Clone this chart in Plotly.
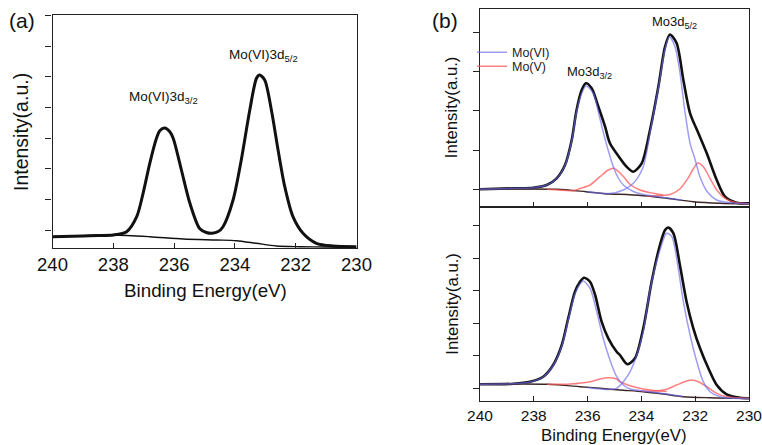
import plotly.graph_objects as go

FONT = "Liberation Sans, Arial, sans-serif"
W, H = 762, 445

# ---------------- data (binding energy in eV, intensity in a.u.) ----------------
x_ticks = [240, 238, 236, 234, 232, 230]

# panel (a)
a_total_ev = [240.0, 239.0, 238.5, 238.0, 237.56, 237.23, 237.02, 236.80, 236.58, 236.47, 236.31,
              236.14, 236.03, 235.76, 235.48, 235.16, 234.94, 234.75, 234.55, 234.39, 234.06,
              233.79, 233.51, 233.29, 233.19, 233.02, 232.80, 232.58, 232.36, 232.09, 231.76,
              231.32, 230.78, 230.0]
a_total_int = [11.3, 12.0, 12.5, 13.0, 16.3, 31.3, 54.7, 84.7, 109.7, 117.3, 120.0,
               116.3, 109.7, 78.0, 44.7, 19.5, 15.5, 14.7, 16.5, 21.3, 48.0,
               88.0, 138.0, 169.7, 173.0, 168.0, 138.0, 98.0, 61.3, 31.3, 14.7,
               4.7, 2.0, 1.3]
a_bg_ev = [240.0, 239.0, 238.0, 236.8, 235.7, 234.6, 233.95, 233.3, 232.64, 231.87, 231.0, 230.0]
a_bg_int = [11.3, 12.3, 13.0, 11.3, 9.0, 8.0, 7.3, 4.7, 2.0, 1.3, 1.0, 0.7]
a_yticks = [18, 48.7, 79.5, 110, 140.5, 171.3, 202, 233]

# panel (b) top
bt_total_ev = [240.0, 238.76, 238.02, 237.52, 237.15, 236.84, 236.59, 236.41, 236.22, 236.06, 235.85,
               235.60, 235.35, 235.17, 234.80, 234.55, 234.30, 233.99, 233.68, 233.37, 233.12,
               232.94, 232.69, 232.44, 232.19, 231.88, 231.57, 231.20, 230.89, 230.46, 230.0]
bt_total_int = [17.7, 18.7, 19.3, 22.0, 28.7, 42.0, 67.0, 97.0, 117.0, 123.7, 118.7,
                100.3, 80.3, 63.7, 49.0, 40.3, 35.3, 43.7, 77.0, 120.3, 160.3,
                172.5, 163.7, 127.0, 93.7, 73.7, 53.7, 27.0, 10.3, 4.3, 3.7]
bt_bg_ev = [240.0, 237.15, 236.06, 235.17, 234.80, 233.93, 233.06, 232.07, 231.08, 230.0]
bt_bg_int = [17.7, 17.7, 15.3, 13.0, 12.7, 11.3, 8.7, 5.3, 3.7, 3.0]
bt_vi32_ev = [240.0, 238.76, 238.02, 237.52, 237.15, 236.84, 236.59, 236.41, 236.22, 236.06, 235.79,
              235.60, 235.42, 235.29, 235.04, 234.86, 234.67, 234.30, 233.93, 233.30, 232.50]
bt_vi32_int = [17.7, 18.7, 19.3, 22.0, 28.5, 41.5, 66.0, 95.0, 113.5, 121.0, 113.7,
               95.0, 75.0, 62.0, 40.0, 29.0, 22.0, 15.5, 12.5, 10.0, 7.0]
bt_vi52_ev = [236.0, 235.17, 234.67, 234.30, 233.93, 233.68, 233.37, 233.12, 232.96, 232.75,
              232.57, 232.38, 232.19, 232.01, 231.82, 231.57, 231.20, 230.71, 230.0]
bt_vi52_int = [15.3, 13.5, 17.0, 23.7, 40.3, 74.0, 119.0, 158.0, 170.3, 160.3,
               135.0, 95.0, 63.7, 48.0, 30.0, 16.0, 7.0, 4.3, 3.2]
bt_v32_ev = [237.5, 236.5, 236.28, 235.91, 235.54, 235.23, 235.02, 234.67, 234.42, 234.05, 233.56, 233.19]
bt_v32_int = [17.7, 16.5, 18.5, 22.0, 30.3, 37.0, 38.7, 30.5, 22.5, 17.0, 13.7, 12.0]
bt_v52_ev = [233.8, 233.3, 232.94, 232.57, 232.26, 232.07, 231.90, 231.70, 231.45, 231.20, 230.89, 230.46, 230.0]
bt_v52_int = [11.0, 11.5, 12.5, 18.0, 29.0, 38.0, 44.0, 40.3, 28.7, 17.0, 8.7, 4.3, 3.3]
bt_yticks = [17.7, 57.0, 96.3, 135.7, 175.0]

# panel (b) bottom
bb_total_ev = [240.0, 238.76, 238.14, 237.65, 237.28, 236.96, 236.72, 236.47, 236.28, 236.13, 235.91,
               235.72, 235.48, 235.23, 234.92, 234.80, 234.52, 234.24, 233.93, 233.62, 233.31,
               233.12, 233.00, 232.81, 232.57, 232.32, 232.07, 231.82, 231.51, 231.20, 230.83,
               230.33, 230.0]
bb_total_int = [16.7, 17.3, 19.3, 24.3, 36.0, 56.0, 82.7, 109.3, 119.3, 123.3, 119.3,
                106.0, 79.3, 62.7, 49.3, 46.0, 36.8, 42.7, 72.7, 119.3, 156.0,
                171.0, 173.5, 167.7, 136.0, 99.3, 72.7, 52.7, 32.7, 16.0, 6.7,
                3.3, 2.7]
bb_bg_ev = [240.0, 237.5, 236.28, 235.54, 234.80, 233.93, 233.19, 232.45, 231.45, 230.0]
bb_bg_int = [16.7, 16.7, 14.3, 12.7, 11.0, 9.3, 7.0, 4.3, 3.3, 2.7]
bb_vi32_ev = [240.0, 238.76, 238.14, 237.65, 237.28, 236.96, 236.72, 236.47, 236.28, 236.16, 235.91,
              235.66, 235.42, 235.17, 234.92, 234.67, 234.42, 233.93, 233.20, 232.45]
bb_vi32_int = [16.7, 17.3, 19.0, 24.0, 35.5, 55.0, 81.0, 107.0, 117.0, 120.0, 112.7,
               89.3, 62.7, 41.0, 24.3, 16.0, 12.0, 10.0, 7.5, 4.5]
bb_vi52_ev = [236.0, 235.17, 234.92, 234.67, 234.42, 234.17, 233.93, 233.68, 233.31, 233.06,
              232.87, 232.63, 232.44, 232.19, 231.94, 231.70, 231.45, 231.08, 230.58, 230.0]
bb_vi52_int = [13.5, 11.5, 12.7, 19.3, 29.3, 46.0, 69.3, 111.0, 151.0, 167.7,
               164.3, 132.7, 99.3, 66.0, 39.3, 19.3, 9.3, 4.3, 2.7, 2.5]
bb_v32_ev = [237.5, 236.65, 235.91, 235.54, 235.23, 234.92, 234.80, 234.42, 233.93, 233.43, 233.06]
bb_v32_int = [16.7, 17.0, 19.3, 22.0, 23.3, 22.0, 19.3, 15.3, 12.0, 10.3, 9.5]
bb_v52_ev = [234.0, 233.43, 233.06, 232.69, 232.32, 232.13, 231.88, 231.57, 231.20, 230.83, 230.33, 230.0]
bb_v52_int = [10.0, 10.0, 11.7, 16.0, 20.0, 21.0, 19.3, 14.3, 7.7, 4.3, 3.0, 2.7]
bb_yticks = [12.7, 45.3, 77.7, 110.3, 143.0, 175.7]

# ---------------- styles ----------------
BLACK = "#111111"
BLUE = "rgba(105,105,235,0.65)"
RED = "rgba(255,85,85,0.75)"
BG_B = "#3e2626"
AX = "#222222"

fig = go.Figure()


def line(x, y, xa, ya, color, width):
    fig.add_trace(go.Scatter(x=x, y=y, xaxis=xa, yaxis=ya, mode="lines",
                             line=dict(color=color, width=width, shape="spline", smoothing=0.8),
                             showlegend=False, hoverinfo="skip"))


# panel (a)
line(a_bg_ev, a_bg_int, "x", "y", BLACK, 1.4)
line(a_total_ev, a_total_int, "x", "y", BLACK, 3.0)

# panel (b) top
line(bt_total_ev, bt_total_int, "x2", "y2", BLACK, 2.6)
line(bt_bg_ev, bt_bg_int, "x2", "y2", BG_B, 1.4)
line(bt_v32_ev, bt_v32_int, "x2", "y2", RED, 1.5)
line(bt_v52_ev, bt_v52_int, "x2", "y2", RED, 1.5)
line(bt_vi32_ev, bt_vi32_int, "x2", "y2", BLUE, 1.5)
line(bt_vi52_ev, bt_vi52_int, "x2", "y2", BLUE, 1.5)

# panel (b) bottom
line(bb_total_ev, bb_total_int, "x3", "y3", BLACK, 2.6)
line(bb_bg_ev, bb_bg_int, "x3", "y3", BG_B, 1.4)
line(bb_v32_ev, bb_v32_int, "x3", "y3", RED, 1.5)
line(bb_v52_ev, bb_v52_int, "x3", "y3", RED, 1.5)
line(bb_vi32_ev, bb_vi32_int, "x3", "y3", BLUE, 1.5)
line(bb_vi52_ev, bb_vi52_int, "x3", "y3", BLUE, 1.5)

# legend entries
fig.add_trace(go.Scatter(x=[None], y=[None], xaxis="x2", yaxis="y2", mode="lines",
                         line=dict(color=BLUE, width=1.5), name="Mo(VI)", showlegend=True,
                         legend="legend"))
fig.add_trace(go.Scatter(x=[None], y=[None], xaxis="x2", yaxis="y2", mode="lines",
                         line=dict(color=RED, width=1.5), name="Mo(V)", showlegend=True,
                         legend="legend2"))


def px(x):
    return x / W


def py(y):
    return 1 - y / H


common_x = dict(range=[240, 230], tickvals=x_ticks, ticks="inside", ticklen=5, tickwidth=1,
                tickcolor=AX, showline=True, linecolor=AX, linewidth=1.3, mirror=True,
                showgrid=False, zeroline=False, automargin=False, ticklabeloverflow="allow")
common_y = dict(ticks="outside", ticklen=6, tickwidth=1, tickcolor=AX, showticklabels=False,
                showline=True, linecolor=AX, linewidth=1.3, mirror=True,
                showgrid=False, zeroline=False, automargin=False)
leg_common = dict(xanchor="left", yanchor="middle", font=dict(size=12.5, family=FONT, color="#222"),
                  bgcolor="rgba(0,0,0,0)", itemwidth=30)

fig.update_layout(
    width=W, height=H, margin=dict(l=0, r=0, t=0, b=0, pad=0, autoexpand=False),
    paper_bgcolor="white", plot_bgcolor="white",
    font=dict(family=FONT, color="#111"),
    xaxis=dict(domain=[px(52.5), px(356.5)], anchor="y",
               tickfont=dict(size=18.5, family=FONT, color="#111"), **common_x),
    yaxis=dict(domain=[py(248), py(15)], anchor="x", range=[0, 233], tickvals=a_yticks, **common_y),
    xaxis2=dict(domain=[px(480), px(749)], anchor="y2", showticklabels=False, **common_x),
    yaxis2=dict(domain=[py(207), py(9.3)], anchor="x2", range=[0, 197.7], tickvals=bt_yticks, **common_y),
    xaxis3=dict(domain=[px(480), px(749)], anchor="y3",
                tickfont=dict(size=15.5, family=FONT, color="#111"), **common_x),
    yaxis3=dict(domain=[py(401), py(207)], anchor="x3", range=[0, 194], tickvals=bb_yticks, **common_y),
    legend=dict(x=px(472), y=py(52.7), **leg_common),
    legend2=dict(x=px(472), y=py(66.7), **leg_common),
)


def ann(text, x, y, size, xanchor="center", yanchor="middle", angle=0):
    fig.add_annotation(text=text, x=px(x), y=py(y), xref="paper", yref="paper",
                       showarrow=False, xanchor=xanchor, yanchor=yanchor, textangle=angle,
                       font=dict(size=size, family=FONT, color="#111"))


ann("(a)", 21.7, 21, 21)
ann("(b)", 445, 20, 21)
ann("Mo(VI)3d<sub>3/2</sub>", 127, 97, 13.5, xanchor="left")
ann("Mo(VI)3d<sub>5/2</sub>", 227, 56, 13.5, xanchor="left")
ann("Mo3d<sub>3/2</sub>", 565, 72.5, 13, xanchor="left")
ann("Mo3d<sub>5/2</sub>", 650, 23, 13, xanchor="left")
ann("Binding Energy(eV)", 205, 290, 18.8)
ann("Intensity(a.u.)", 21, 132, 19.5, angle=-90)
ann("Binding Energy(eV)", 614, 435, 16.8)
ann("Intensity(a.u.)", 451.7, 107.5, 16.8, angle=-90)
ann("Intensity(a.u.)", 451.7, 304, 16.8, angle=-90)

# remove the default page margin so that the 762x445 figure fills the window exactly
fig.write_html("out.html", config={"displayModeBar": False},
               post_script="document.body.style.margin='0';document.body.style.overflow='hidden';")
